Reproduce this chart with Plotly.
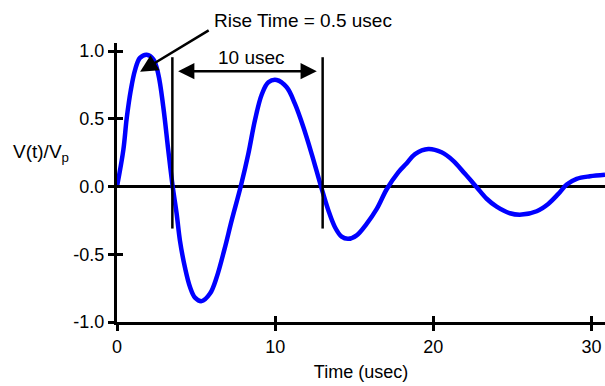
import plotly.graph_objects as go

# Waveform samples (time in usec, normalised voltage)
time_us = [0, 0.40, 0.61, 0.87, 1.14, 1.45, 1.88, 2.30, 2.61, 2.93, 3.24, 3.52,
           3.77, 3.98, 4.30, 4.61, 4.93, 5.35, 5.88, 6.30, 6.80, 7.25, 7.82,
           8.30, 8.72, 9.15, 9.57, 10.09, 10.73, 11.25, 11.78, 12.31, 12.90,
           13.36, 13.78, 14.20, 14.62, 15.15, 15.78, 16.42, 17.05,
           17.78, 18.30, 18.84, 19.68, 20.52, 21.26, 22.00, 22.74,
           23.37, 24.00, 24.84, 25.58, 26.53, 27.26, 27.90, 28.43, 29.06, 29.90, 30.85]
volts = [0.0, 0.27, 0.50, 0.71, 0.86, 0.95, 0.974, 0.94, 0.83, 0.585, 0.27, 0.0,
         -0.20, -0.40, -0.60, -0.74, -0.82, -0.846, -0.79, -0.67, -0.46, -0.25, 0.0,
         0.24, 0.49, 0.68, 0.77, 0.787, 0.733, 0.61, 0.44, 0.24, 0.0,
         -0.175, -0.30, -0.37, -0.386, -0.36, -0.275, -0.165, -0.02,
         0.105, 0.17, 0.24, 0.278, 0.253, 0.19, 0.094, -0.005,
         -0.09, -0.148, -0.197, -0.207, -0.182, -0.128, -0.054, 0.015, 0.057, 0.076, 0.087]

x_ticks = [0, 10, 20, 30]
y_ticks = [-1.0, -0.5, 0.0, 0.5, 1.0]
y_tick_text = ["-1.0", "-0.5", "0.0", "0.5", "1.0"]

# Period markers (usec) and their extents
marker_times = [3.5, 13.0]
marker_y = [-0.31, 0.955]
period_arrow = dict(x0=3.77, x1=12.63, y=0.852)
rise_arrow = dict(x_tip=1.46, y_tip=0.847, x_tail=5.89, y_tail=1.16)

FONT = "Liberation Sans, Arial, sans-serif"

fig = go.Figure()
fig.add_trace(go.Scatter(x=time_us, y=volts, mode="lines",
                         line=dict(color="#0000FF", width=4.5, shape="spline", smoothing=1.0),
                         showlegend=False, hoverinfo="skip"))
# invisible trace to anchor the overlay axes (ticks crossing the axis lines)
fig.add_trace(go.Scatter(x=[0], y=[0], xaxis="x2", yaxis="y2", mode="markers", marker=dict(opacity=0),
                         showlegend=False, hoverinfo="skip"))

for t in marker_times:
    fig.add_shape(type="line", x0=t, x1=t, y0=marker_y[0], y1=marker_y[1], xref="x", yref="y",
                  line=dict(color="black", width=2.5))

fig.add_annotation(x=period_arrow["x1"], y=period_arrow["y"], ax=period_arrow["x0"], ay=period_arrow["y"],
                   xref="x", yref="y", axref="x", ayref="y", text="", showarrow=True,
                   arrowside="end+start", arrowhead=2, arrowsize=1.3, arrowwidth=2.5, arrowcolor="black")
fig.add_annotation(x=8.5, y=0.955, xref="x", yref="y", text="10 usec", showarrow=False,
                   font=dict(family=FONT, size=19, color="black"))
fig.add_annotation(x=rise_arrow["x_tip"], y=rise_arrow["y_tip"], ax=rise_arrow["x_tail"], ay=rise_arrow["y_tail"],
                   xref="x", yref="y", axref="x", ayref="y", text="", showarrow=True,
                   arrowhead=2, arrowsize=1.4, arrowwidth=2.5, arrowcolor="black")
fig.add_annotation(x=(212 - 117) / 488, y=(322 - 20) / 279, xref="paper", yref="paper", xanchor="left",
                   yanchor="middle", text="Rise Time = 0.5 usec", showarrow=False,
                   font=dict(family=FONT, size=19, color="black"))
fig.add_annotation(x=(11 - 117) / 488, y=(322 - 153) / 279, xref="paper", yref="paper", xanchor="left",
                   yanchor="middle", text="V(t)/V<sub>p</sub>", showarrow=False,
                   font=dict(family=FONT, size=19, color="black"))

xr = [0, 30.85]
yr = [-1.0, 1.06]
axis_common = dict(showgrid=False, linecolor="black", linewidth=3, tickcolor="black", tickwidth=3, ticklen=6)
fig.update_layout(
    width=605, height=386,
    margin=dict(l=117, r=0, t=43, b=64),
    paper_bgcolor="white", plot_bgcolor="white",
    font=dict(family=FONT, size=18, color="black"),
    xaxis=dict(range=xr, tickvals=x_ticks, ticks="outside", showline=True, zeroline=False,
               title=dict(text="Time (usec)", font=dict(size=18), standoff=10), **axis_common),
    yaxis=dict(range=yr, tickvals=y_ticks, ticktext=y_tick_text, ticks="outside", showline=True,
               zeroline=True, zerolinecolor="black", zerolinewidth=3, **axis_common),
    xaxis2=dict(range=xr, overlaying="x", tickvals=x_ticks, ticks="inside", showticklabels=False,
                showline=False, zeroline=False, showgrid=False, tickcolor="black", tickwidth=3, ticklen=6,
                anchor="y2"),
    yaxis2=dict(range=yr, overlaying="y", tickvals=y_ticks, ticks="inside", showticklabels=False,
                showline=False, zeroline=False, showgrid=False, tickcolor="black", tickwidth=3, ticklen=6,
                anchor="x2", side="left"),
)

fig.write_html("out.html")
